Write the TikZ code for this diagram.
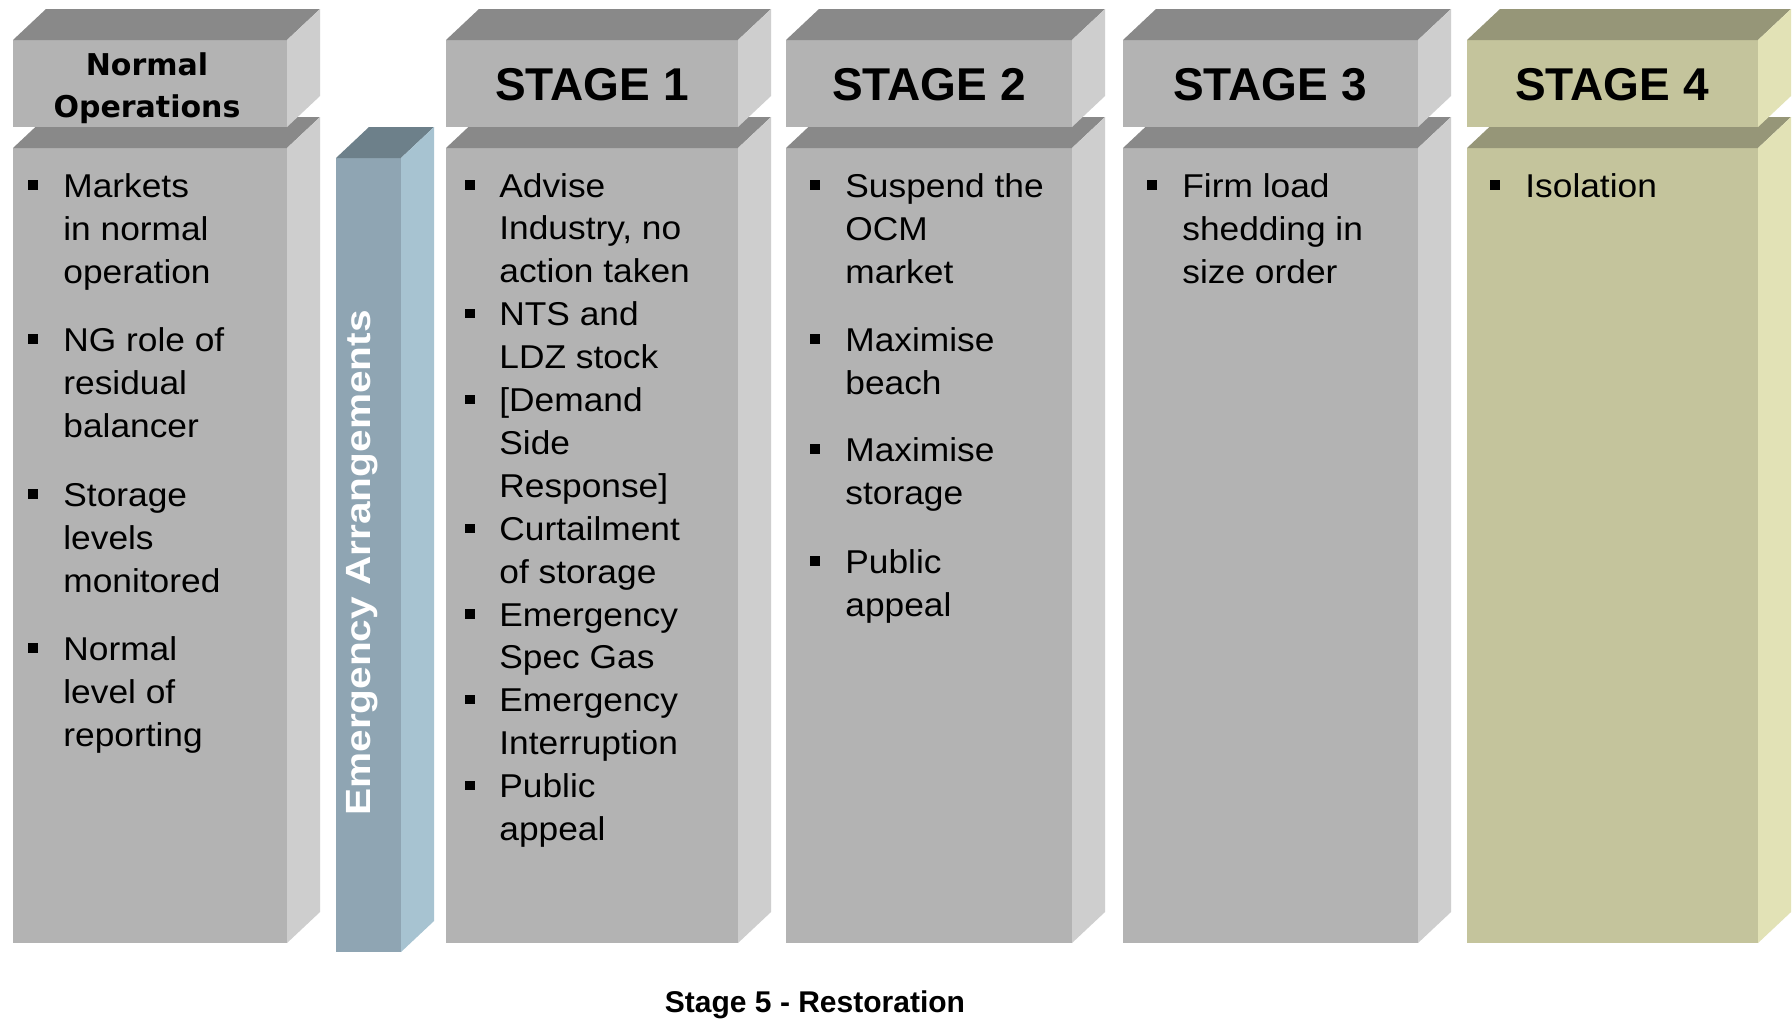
\documentclass[tikz,border=0pt]{standalone}
\usepackage{fontspec}
\setmainfont{Liberation Sans}
\newfontfamily\itemfont[FakeStretch=1.07]{Liberation Sans}
\newfontfamily\vertfont[FakeStretch=1.16]{Liberation Sans}
\newfontfamily\headfont{DejaVu Sans}

\definecolor{grayF}{HTML}{B3B3B3}
\definecolor{grayT}{HTML}{898989}
\definecolor{grayS}{HTML}{CECECE}
\definecolor{oliveF}{HTML}{C4C49C}
\definecolor{oliveT}{HTML}{969678}
\definecolor{oliveS}{HTML}{E2E2B6}
\definecolor{blueF}{HTML}{8FA5B3}
\definecolor{blueT}{HTML}{6D808A}
\definecolor{blueS}{HTML}{A7C3D1}

\newcommand{\slab}[5]{%
  \fill[fill=#5F] (#1,#2) rectangle (#3,#4);
  \fill[fill=#5T] (#1,#2) -- ++(33,-31) -- ++({#3-#1},0) -- (#3,#2) -- cycle;
  \fill[fill=#5S] (#3,#2) -- ++(33,-31) -- ++(0,{#4-#2}) -- (#3,#4) -- cycle;
}

\begin{document}
\begin{tikzpicture}[x=0.5pt,y=-0.5pt,
    txt/.style={anchor=base west,inner sep=0,font=\itemfont\fontsize{16.5}{20}\selectfont},
    bul/.style={fill=black,minimum size=4.6pt,inner sep=0},
    hd/.style={anchor=base,inner sep=0,font=\bfseries\fontsize{23}{28}\selectfont},
    nohd/.style={anchor=base,inner sep=0,font=\headfont\bfseries\fontsize{15}{19}\selectfont}]

    \fill[white] (0,0) rectangle (1792,1019);
    \useasboundingbox (0,0) rectangle (1792,1019);

    \foreach \xa/\xb/\col in {13/287/gray,446/738/gray,786/1072/gray,1123/1418/gray,1467/1758/olive}{
      \slab{\xa}{148}{\xb}{943}{\col}
      \slab{\xa}{40}{\xb}{127}{\col}
    }
    \slab{336}{158}{401}{952}{blue}

    \node[nohd] (no-h1) at (147,75) {Normal};
    \node[nohd] (no-h2) at (147,117) {Operations};
    \foreach \n/\xc in {1/592,2/929,3/1270,4/1612}
      \node[hd] (st\n-h) at (\xc,100) {STAGE \n};

    \node[anchor=base,rotate=90,inner sep=0,text=white,font=\vertfont\bfseries\fontsize{17.5}{20}\selectfont]
      (ea) at (370,563) {Emergency Arrangements};

    % normal operations
    \foreach \y/\t [count=\i] in {197/Markets,240/in normal,283/operation,
        351/NG role of,394/residual,437/balancer,
        506/Storage,549/levels,592/monitored,
        660/Normal,703/level of,746/reporting}
      \node[txt] (no-\i) at (63,\y) {\t};
    \foreach \y [count=\i] in {197,351,506,660}
      \node[bul] (no-b\i) at (33,\y-12) {};

    % stage 1
    \foreach \t [count=\i, evaluate={\y=197+42.9*(\i-1)}] in {Advise,{Industry, no},action taken,
        NTS and,LDZ stock,{[Demand},Side,Response],Curtailment,of storage,
        Emergency,Spec Gas,Emergency,Interruption,Public,appeal}
      \node[txt] (st1-\i) at (499,\y) {\t};
    \foreach \k in {1,4,6,9,11,13,15}
      \node[bul] (st1-b\k) at (470,{185+42.9*(\k-1)}) {};

    % stage 2
    \foreach \y/\t [count=\i] in {197/Suspend the,240/OCM,283/market,
        351/Maximise,394/beach,461/Maximise,504/storage,573/Public,616/appeal}
      \node[txt] (st2-\i) at (845,\y) {\t};
    \foreach \y [count=\i] in {197,351,461,573}
      \node[bul] (st2-b\i) at (815,\y-12) {};

    % stage 3 and 4
    \foreach \y/\t [count=\i] in {197/Firm load,240/shedding in,283/size order}
      \node[txt] (st3-\i) at (1182,\y) {\t};
    \node[bul] (st3-b1) at (1152,185) {};
    \node[txt] (st4-1) at (1525,197) {Isolation};
    \node[bul] (st4-b1) at (1495,185) {};

    \node[anchor=base,inner sep=0,font=\bfseries\fontsize{15}{18}\selectfont] (foot) at (815,1012) {Stage 5 - Restoration};

\end{tikzpicture}
\end{document}
